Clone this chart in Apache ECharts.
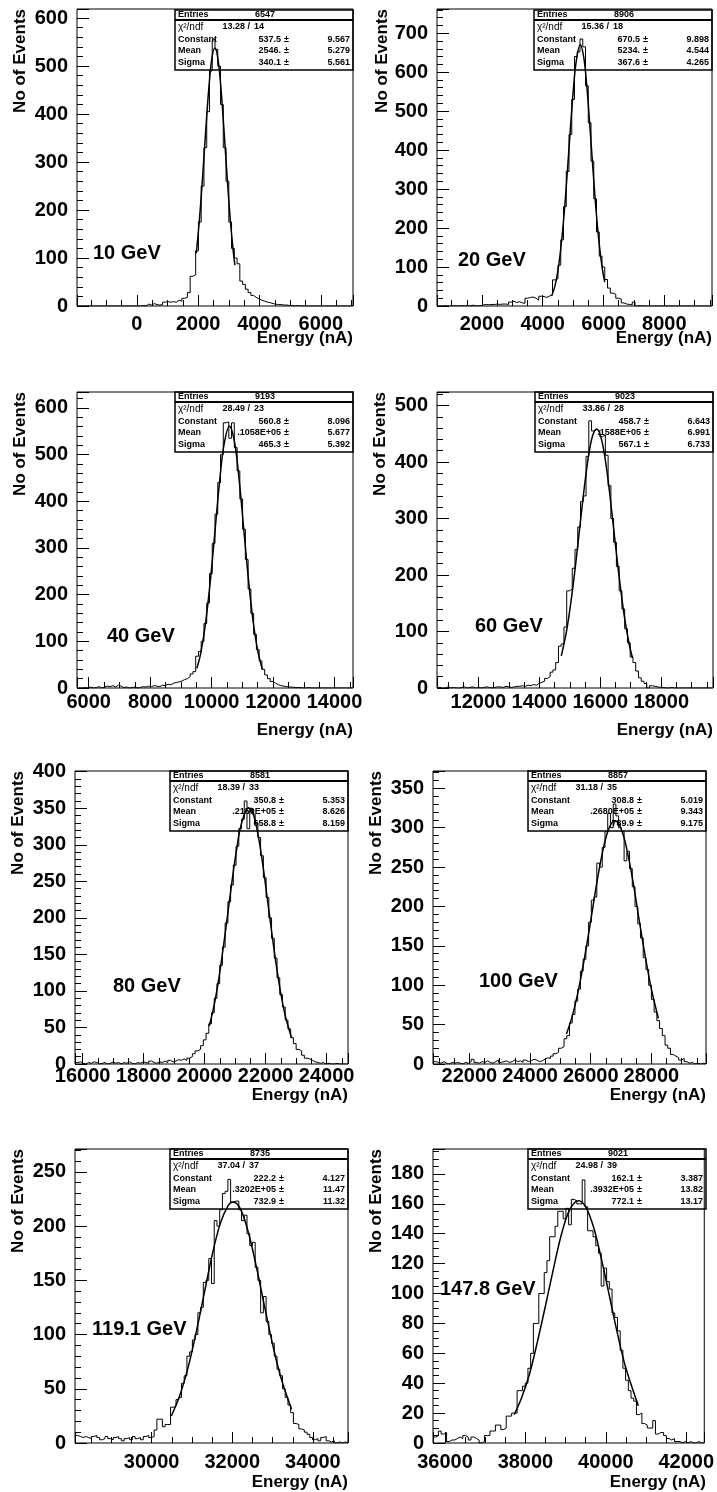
<!DOCTYPE html>
<html><head><meta charset="utf-8">
<script src="https://cdn.jsdelivr.net/npm/echarts@6/dist/echarts.min.js"></script>
<style>html,body{margin:0;padding:0;background:#fff}#c{width:717px;height:1492px}</style>
</head><body><div id="c"></div>
<script>
// ---------------- data ----------------
const panelLabels = ['10 GeV','20 GeV','40 GeV','60 GeV','80 GeV','100 GeV','119.1 GeV','147.8 GeV'];
const histLo = [-1950, 520, 5620, 10640, 15750, 20800, 28100, 35700];
const histHi = [7050, 9570, 14600, 19700, 24700, 29800, 34870, 42450];
const yTop   = [619, 762, 634, 524, 401, 372, 271, 196.7];
const yStep  = [100, 100, 100, 100, 50, 50, 50, 20];

const counts10 = [0,0,0,0,0,0,0,0,0,0, 0,0,0,0,0,0,0,0,0,0, 0,0,0,1,0,4,2,5,3,2, 3,8,9,8,9,8,12,10,16,18,
  28,62,65,115,175,250,330,405,490,556, 535,500,420,330,260,175,120,100,88,52, 45,35,28,22,18,15,12,10,8,7,
  5,4,3,3,2,2,1,1,0,1, 0,0,0,0,0,0,0,0,0,0, 0,0,0,0,0,0,0,0,0,0];
const counts20 = [0,0,1,0,0,1,0,0,1,0, 1,0,2,1,0,1,3,4,3,4, 4,5,4,5,5,4,10,12,9,11, 8,7,20,22,23,20,15,25,24,22,
  26,28,67,70,105,170,255,345,440,530, 640,652,685,665,565,470,372,275,190,128, 100,68,46,33,30,20,18,8,5,4,
  3,10,0,1,0,0,0,0,0,0, 0,0,0,0,0,0,0,0,0,0, 0,0,0,0,0,0,0,0,0,0];
const counts40 = [0,0,1,0,2,0,1,3,0,2, 4,3,5,2,6,4,1,2,0,1, 2,0,1,3,2,4,3,5,4,3, 6,5,8,7,10,12,13,15,18,20,
  24,30,35,68,78,100,138,182,245,310, 372,440,500,568,570,535,568,515,465,405, 340,275,212,160,115,82,58,40,28,20,
  14,10,7,5,4,3,2,2,1,1, 1,0,0,1,0,0,0,0,0,0, 0,0,0,0,0,0,0,0,0,0];
const counts60 = [1,0,0,2,0,1,0,0,1,2, 0,1,2,0,1,0,1,2,1,0, 1,2,2,1,3,2,1,2,3,3, 4,3,5,4,6,5,8,10,12,17,
  20,28,32,45,74,78,108,172,175,212, 245,285,330,340,410,473,455,458,455,445, 448,412,358,300,258,215,172,140,105,80,
  55,45,30,18,12,8,0,4,3,2, 1,1,0,0,1,0,0,0,0,0, 0,0,0,0,0,0,0,0,0,0];
const counts80 = [2,3,1,0,2,1,3,2,0,1, 2,0,1,3,1,2,0,2,1,3, 1,0,2,1,3,2,1,4,2,1, 3,2,4,2,5,3,4,6,5,7,
  5,8,10,14,18,20,25,33,42,55, 70,90,110,135,160,193,222,245,272,298, 322,335,360,322,350,342,330,310,285,255,
  228,200,172,145,118,95,78,60,48,36, 28,20,18,12,8,7,5,3,2,1, 2,0,1,0,0,1,0,0,0,0];
const counts100 = [3,2,1,3,1,0,2,1,2,1, 0,2,1,3,6,2,1,3,2,4, 2,1,3,5,2,3,4,2,3,5, 3,4,2,5,3,4,6,5,3,4,
  6,8,7,10,13,15,20,22,32,36, 52,63,80,95,118,133,150,180,208,212, 255,250,275,295,318,300,330,315,300,295,
  258,270,248,225,200,178,160,135,120,100, 82,66,55,45,36,24,20,12,10,8, 5,7,3,1,2,0,1,0,1,0];
const counts119 = [7,6,5,6,5,4,6,7,5,3, 4,6,4,3,5,6,4,2,4,5, 3,6,4,5,3,6,7,5,6,12, 22,22,15,17,17,33,34,40,42,55,
  62,80,84,95,100,120,125,148,150,170, 147,205,200,215,230,232,243,222,223,223, 215,205,210,193,182,185,162,150,120,135,
  112,100,92,80,68,62,50,42,35,28, 18,17,13,12,10,8,5,3,4,2, 5,6,2,1,2,0,1,0,1,0];
const counts147 = [4,5,8,6,7,1,2,2,3,4, 3,5,4,2,4,3,2,0,1,5, 5,8,8,12,12,9,10,18,18,20, 20,35,35,38,40,50,60,80,80,100,
  100,114,122,138,138,145,155,155,150,157, 146,163,162,160,160,176,158,142,142,138, 132,127,105,117,108,103,87,84,75,62,
  50,42,35,30,28,19,20,13,12,10, 10,15,6,7,7,5,3,2,3,1, 1,0,1,0,1,0,0,1,0,0];

const fit10 = [[1940,110],[2050,186],[2150,273],[2250,368],[2350,455],[2450,517],[2546,537.5],[2650,513],[2750,449],[2850,360],[2950,265],[3050,179],[3150,111],[3200,85]];
const fit20 = [[4300,27],[4400,51],[4500,91],[4600,152],[4700,233],[4800,334],[4900,444],[5000,548],[5100,627],[5234,670.5],[5350,638],[5450,564],[5550,463],[5650,353],[5750,250],[5850,165],[5950,101],[6040,61]];
const fit40 = [[9520,42],[9650,76],[9800,138],[9950,224],[10100,329],[10250,436],[10400,520],[10580,560.8],[10750,525],[10900,443],[11050,337],[11200,231],[11350,143],[11500,80],[11650,40]];
const fit60 = [[14720,57],[14900,103],[15080,170],[15260,252],[15440,339],[15620,413],[15750,447],[15880,458.7],[16050,438],[16230,379],[16410,296],[16590,210],[16770,134],[16950,77],[17060,53]];
const fit80 = [[20150,52],[20300,78],[20450,113],[20600,156],[20750,203],[20900,251],[21050,294],[21200,328],[21440,350.8],[21600,341],[21750,314],[21900,275],[22050,228],[22200,180],[22350,135],[22500,96],[22650,65],[22850,36]];
const fit100 = [[25200,38],[25400,62],[25600,95],[25800,136],[26000,182],[26200,230],[26400,271],[26600,299],[26800,308.8],[27000,299],[27200,271],[27400,230],[27600,182],[27800,136],[28000,95],[28230,58]];
const fit119 = [[30490,25],[30700,44],[30900,69],[31100,101],[31300,137],[31500,173],[31700,202],[31900,219],[32020,222.2],[32200,216],[32400,194],[32600,162],[32800,126],[33000,91],[33200,61],[33470,31]];
const fit147 = [[37720,19],[37900,30],[38100,46],[38300,68],[38500,92],[38700,117],[38900,140],[39100,156],[39320,162.1],[39500,158],[39700,144],[39900,122],[40100,97],[40300,72],[40500,50],[40810,25]];

// fit statistics boxes
const statEntries  = ['6547','8906','9193','9023','8581','8857','8735','9021'];
const statChi2     = ['13.28','15.36','28.49','33.86','18.39','31.18','37.04','24.98'];
const statNdf      = ['14','18','23','28','33','35','37','39'];
const statConst    = ['537.5','670.5','560.8','458.7','350.8','308.8','222.2','162.1'];
const statConstErr = ['9.567','9.898','8.096','6.643','5.353','5.019','4.127','3.387'];
const statMean     = ['2546.','5234.','.1058E+05','.1588E+05','.2150E+05','.2680E+05','.3202E+05','.3932E+05'];
const statMeanErr  = ['5.279','4.544','5.677','6.991','8.626','9.343','11.47','13.82'];
const statSigma    = ['340.1','367.6','465.3','567.1','658.8','789.9','732.9','772.1'];
const statSigmaErr = ['5.561','4.265','5.392','6.733','8.159','9.175','11.32','13.17'];

const allCounts = [counts10, counts20, counts40, counts60, counts80, counts100, counts119, counts147];
const allFits = [fit10, fit20, fit40, fit60, fit80, fit100, fit119, fit147];

// ---------------- layout ----------------
const FONT = '"Liberation Sans", Arial, Helvetica, sans-serif';
const boxes = [ [77,9,276,297],[437,9,275,297],[77,392,276,296],[437,392,276,296],
                [75,771,273,293],[433,771,273,293],[75,1149,273,294],[433,1149,273,294] ];
const xLabelMargin = [8,8,4,4,2,2,9,9];
const yTitleX = [20,382,20,380,18.5,376,18.5,376];
const xTitleY = [338,338,730,730,1095,1095,1482,1482];
const tagPos = [[93,253],[458,260],[107,636],[475,626],[113,986],[479,981],[92,1329],[440,1289]];

function histData(i){
  const c = allCounts[i], lo = histLo[i], hi = histHi[i];
  const w = (hi - lo) / c.length;
  const d = c.map((v, k) => [lo + k * w, v]);
  d.push([hi, c[c.length - 1]]);
  return d;
}

const chart = echarts.init(document.getElementById('c'), null, {renderer:'canvas', width:717, height:1492});
const grid = [], xAxis = [], yAxis = [], series = [], graphic = [];
const txt = (text, x, y, font, align, valign, extra) => Object.assign({
  type:'text', x:x, y:y, silent:true,
  style:{text:text, x:0, y:0, fill:'#000', font:font, textAlign:align, align:align, textVerticalAlign:valign, verticalAlign:valign}
}, extra || {});

for (let i = 0; i < 8; i++) {
  const [L, T, W, H] = boxes[i];
  grid.push({left:L, top:T, width:W, height:H, show:true, borderColor:'#000', borderWidth:1, backgroundColor:'transparent'});
  xAxis.push({
    gridIndex:i, type:'value', position:'bottom', min:histLo[i], max:histHi[i], splitNumber: i >= 6 ? 3 : 5,
    axisLine:{show:false, onZero:false},
    axisTick:{show:true, inside:true, length:11, lineStyle:{color:'#000', width:1}},
    minorTick:{show:true, splitNumber:4, length:6, lineStyle:{color:'#000', width:1}},
    splitLine:{show:false}, minorSplitLine:{show:false},
    axisLabel:{show:true, showMinLabel:false, showMaxLabel:false, margin:xLabelMargin[i],
      fontSize:20, fontWeight:'bold', fontFamily:FONT, color:'#000', formatter: v => String(v)}
  });
  yAxis.push({
    gridIndex:i, type:'value', position:'left', min:0, max:yTop[i], interval:yStep[i],
    axisLine:{show:false, onZero:false},
    axisTick:{show:true, inside:true, length:12, lineStyle:{color:'#000', width:1}},
    minorTick:{show:true, splitNumber: i === 7 ? 4 : 5, length:6, lineStyle:{color:'#000', width:1}},
    splitLine:{show:false}, minorSplitLine:{show:false},
    axisLabel:{show:true, showMaxLabel:false, margin:9,
      fontSize:20, fontWeight:'bold', fontFamily:FONT, color:'#000', formatter: v => String(v)}
  });
  series.push({type:'line', xAxisIndex:i, yAxisIndex:i, data:histData(i), step:'end',
    symbol:'none', showSymbol:false, silent:true, animation:false,
    lineStyle:{color:'#000', width:1}});
  series.push({type:'line', xAxisIndex:i, yAxisIndex:i, data:allFits[i], smooth:0.35,
    symbol:'none', showSymbol:false, silent:true, animation:false,
    lineStyle:{color:'#000', width:1.5}});

  // axis titles and energy tag
  graphic.push(txt('No of Events', yTitleX[i], T, 'bold 17px ' + FONT, 'right', 'middle', {rotation: Math.PI/2}));
  graphic.push(txt('Energy (nA)', L + W, xTitleY[i], 'bold 17px ' + FONT, 'right', 'middle'));
  graphic.push(txt(panelLabels[i], tagPos[i][0], tagPos[i][1], 'bold 20px ' + FONT, 'left', 'middle'));

  // statistics box
  const BW = 178, BH = 60;
  const bx = L + W - BW, by = T + (i < 2 ? 1 : 0);
  graphic.push({type:'rect', silent:true, shape:{x:bx, y:by, width:BW, height:BH},
    style:{fill:'none', stroke:'#000', lineWidth:1.5}});
  graphic.push({type:'line', silent:true, shape:{x1:bx, y1:by+10, x2:bx+BW, y2:by+10},
    style:{stroke:'#000', lineWidth:2}});
  const fb = 'bold 9px ' + FONT;
  const rows = [by+4.8, by+16.8, by+29.2, by+40.8, by+52.2];
  graphic.push(txt('Entries', bx+3, rows[0], fb, 'left', 'middle'));
  graphic.push(txt(statEntries[i], bx+80, rows[0], fb, 'left', 'middle'));
  graphic.push(txt('\u03C7\u00B2/ndf', bx+3, rows[1], '10px ' + FONT, 'left', 'middle'));
  graphic.push(txt(statChi2[i], bx+70, rows[1], fb, 'right', 'middle'));
  graphic.push(txt('/', bx+72.5, rows[1], fb, 'left', 'middle'));
  graphic.push(txt(statNdf[i], bx+79, rows[1], fb, 'left', 'middle'));
  const names = ['Constant','Mean','Sigma'];
  const vals = [statConst[i], statMean[i], statSigma[i]];
  const errs = [statConstErr[i], statMeanErr[i], statSigmaErr[i]];
  for (let r = 0; r < 3; r++) {
    graphic.push(txt(names[r], bx+3, rows[r+2], fb, 'left', 'middle'));
    graphic.push(txt(vals[r], bx+106, rows[r+2], fb, 'right', 'middle'));
    graphic.push(txt('\u00B1', bx+109, rows[r+2], fb, 'left', 'middle'));
    graphic.push(txt(errs[r], bx+BW-3, rows[r+2], fb, 'right', 'middle'));
  }
}

chart.setOption({animation:false, backgroundColor:'#fff', grid, xAxis, yAxis, series, graphic});
</script>
</body></html>
